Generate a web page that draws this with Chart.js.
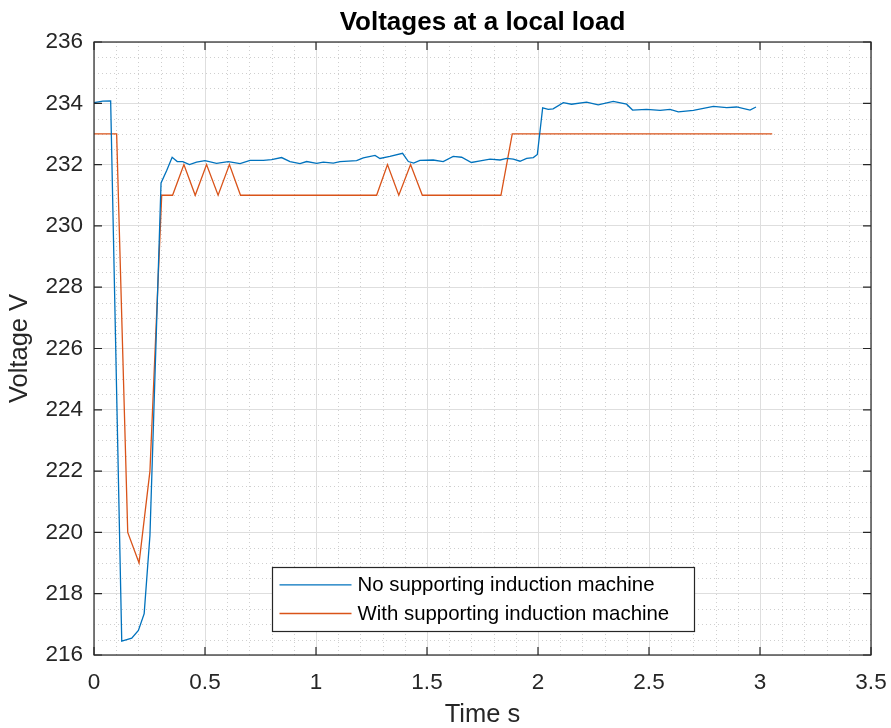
<!DOCTYPE html>
<html>
<head>
<meta charset="utf-8">
<script src="https://cdn.jsdelivr.net/npm/chart.js@4/dist/chart.umd.min.js"></script>
<style>
  html,body{margin:0;padding:0;background:#fff;}
  #wrap{width:891px;height:728px;}
</style>
</head>
<body>
<div id="wrap"><canvas id="c" width="891" height="728"></canvas></div>
<script>
// ---- data ----
const blueLabel = 'No supporting induction machine';
const orangeLabel = 'With supporting induction machine';

const blueTime = [0, 0.04, 0.075, 0.125, 0.17, 0.2, 0.226, 0.252, 0.302, 0.327, 0.352, 0.375, 0.4, 0.43, 0.462, 0.5, 0.552, 0.605, 0.658, 0.703, 0.763, 0.8, 0.845, 0.883, 0.928, 0.958, 1.003, 1.033, 1.078, 1.108, 1.183, 1.213, 1.266, 1.288, 1.333, 1.39, 1.416, 1.44, 1.468, 1.528, 1.573, 1.618, 1.656, 1.7, 1.74, 1.784, 1.829, 1.859, 1.889, 1.919, 1.949, 1.979, 1.997, 2.021, 2.046, 2.068, 2.114, 2.151, 2.219, 2.271, 2.339, 2.399, 2.426, 2.489, 2.55, 2.595, 2.632, 2.7, 2.79, 2.85, 2.895, 2.955, 2.982];
const blueVolt = [234.02, 234.07, 234.08, 216.45, 216.55, 216.8, 217.35, 219.9, 231.4, 231.8, 232.24, 232.1, 232.1, 232.0, 232.08, 232.13, 232.04, 232.1, 232.03, 232.14, 232.14, 232.16, 232.23, 232.1, 232.03, 232.1, 232.04, 232.08, 232.05, 232.1, 232.13, 232.22, 232.3, 232.2, 232.27, 232.37, 232.1, 232.05, 232.14, 232.15, 232.1, 232.27, 232.24, 232.07, 232.12, 232.18, 232.15, 232.2, 232.18, 232.11, 232.2, 232.23, 232.33, 233.85, 233.8, 233.82, 234.02, 233.97, 234.04, 233.95, 234.06, 233.97, 233.78, 233.8, 233.77, 233.8, 233.72, 233.77, 233.9, 233.86, 233.88, 233.78, 233.88];

const orangeTime = [0, 0.102, 0.152, 0.203, 0.252, 0.305, 0.354, 0.405, 0.456, 0.507, 0.559, 0.61, 0.66, 1.273, 1.322, 1.373, 1.426, 1.479, 1.833, 1.884, 3.055];
const orangeVolt = [233, 233, 220, 219, 222, 231, 231, 232, 231, 232, 231, 232, 231, 231, 232, 231, 232, 231, 231, 233, 233];

const xTickValues = [0, 0.5, 1, 1.5, 2, 2.5, 3, 3.5];
const xTickLabels = ['0', '0.5', '1', '1.5', '2', '2.5', '3', '3.5'];
const yTickValues = [216, 218, 220, 222, 224, 226, 228, 230, 232, 234, 236];
const yTickLabels = ['216', '218', '220', '222', '224', '226', '228', '230', '232', '234', '236'];
const xMinorStep = 0.1;
const yMinorStep = 0.5;

const chartTitle = 'Voltages at a local load';
const xTitle = 'Time s';
const yTitle = 'Voltage V';

// ---- styling ----
const FONT = "'Liberation Sans', Arial, Helvetica, sans-serif";
const AXIS_COLOR = '#262626';
const BLUE = '#0072BD';
const ORANGE = '#D95319';

const minorGrid = {
  id: 'minorGrid',
  beforeDatasetsDraw(chart) {
    const {ctx, chartArea: a, scales: {x, y}} = chart;
    ctx.save();
    ctx.strokeStyle = '#cfcfcf';
    ctx.lineWidth = 1;
    ctx.setLineDash([1, 3]);
    const xMin = xTickValues[0], xMax = xTickValues[xTickValues.length - 1];
    const nx = Math.round((xMax - xMin) / xMinorStep);
    for (let i = 1; i < nx; i++) {
      const v = xMin + i * xMinorStep;
      if (xTickValues.some(t => Math.abs(t - v) < 1e-6)) continue;
      const px = Math.round(x.getPixelForValue(v)) + 0.5;
      ctx.beginPath(); ctx.moveTo(px, a.top); ctx.lineTo(px, a.bottom); ctx.stroke();
    }
    const yMin = yTickValues[0], yMax = yTickValues[yTickValues.length - 1];
    const ny = Math.round((yMax - yMin) / yMinorStep);
    for (let i = 1; i < ny; i++) {
      const v = yMin + i * yMinorStep;
      if (yTickValues.some(t => Math.abs(t - v) < 1e-6)) continue;
      const py = Math.round(y.getPixelForValue(v)) + 0.5;
      ctx.beginPath(); ctx.moveTo(a.left, py); ctx.lineTo(a.right, py); ctx.stroke();
    }
    ctx.restore();
  }
};

const axesBox = {
  id: 'axesBox',
  afterDatasetsDraw(chart) {
    const {ctx, chartArea: a, scales: {x, y}} = chart;
    ctx.save();
    ctx.strokeStyle = AXIS_COLOR;
    ctx.lineWidth = 1.2;
    ctx.setLineDash([]);
    ctx.strokeRect(a.left, a.top, a.right - a.left, a.bottom - a.top);
    const TL = 8;
    ctx.beginPath();
    xTickValues.forEach(v => {
      const px = x.getPixelForValue(v);
      ctx.moveTo(px, a.bottom); ctx.lineTo(px, a.bottom - TL);
      ctx.moveTo(px, a.top); ctx.lineTo(px, a.top + TL);
    });
    yTickValues.forEach(v => {
      const py = y.getPixelForValue(v);
      ctx.moveTo(a.left, py); ctx.lineTo(a.left + TL, py);
      ctx.moveTo(a.right, py); ctx.lineTo(a.right - TL, py);
    });
    ctx.stroke();
    ctx.restore();
  }
};

const axesTitle = {
  id: 'axesTitle',
  afterDraw(chart) {
    const {ctx, chartArea: a} = chart;
    ctx.save();
    ctx.font = 'bold 26px ' + FONT;
    ctx.fillStyle = '#000000';
    ctx.textAlign = 'center';
    ctx.textBaseline = 'alphabetic';
    ctx.fillText(chartTitle, (a.left + a.right) / 2, a.top - 12);
    ctx.restore();
  }
};

const boxLegend = {
  id: 'boxLegend',
  afterDraw(chart) {
    const {ctx, chartArea: a} = chart;
    const ds = chart.data.datasets;
    ctx.save();
    ctx.font = '20.4px ' + FONT;
    const textW = Math.max(...ds.map(d => ctx.measureText(d.label).width));
    const padL = 7, lineLen = 72, gap = 6, padR = 25, rowH = 28.7, padT = 17.3;
    const w = Math.round(padL + lineLen + gap + textW + padR);
    const h = 64;
    const cx = (a.left + a.right) / 2;
    const left = Math.round(cx - w / 2) + 0.5;
    const top = Math.round(a.bottom - 24 - h) + 0.5;
    ctx.fillStyle = '#ffffff';
    ctx.fillRect(left, top, w, h);
    ctx.strokeStyle = AXIS_COLOR;
    ctx.lineWidth = 1.2;
    ctx.strokeRect(left, top, w, h);
    ds.forEach((d, i) => {
      const ry = top + padT + i * rowH;
      ctx.strokeStyle = d.borderColor;
      ctx.lineWidth = d.borderWidth;
      ctx.beginPath();
      ctx.moveTo(left + padL, ry); ctx.lineTo(left + padL + lineLen, ry);
      ctx.stroke();
      ctx.fillStyle = '#000000';
      ctx.textBaseline = 'middle';
      ctx.textAlign = 'left';
      ctx.fillText(d.label, left + padL + lineLen + gap, ry + 1);
    });
    ctx.restore();
  }
};

const toPoints = (ts, vs) => ts.map((t, i) => ({x: t, y: vs[i]}));

new Chart(document.getElementById('c'), {
  type: 'line',
  data: {
    datasets: [
      {label: blueLabel, data: toPoints(blueTime, blueVolt), borderColor: BLUE, borderWidth: 1.3, pointRadius: 0, tension: 0, fill: false},
      {label: orangeLabel, data: toPoints(orangeTime, orangeVolt), borderColor: ORANGE, borderWidth: 1.3, pointRadius: 0, tension: 0, fill: false}
    ]
  },
  options: {
    responsive: false,
    animation: false,
    devicePixelRatio: 1,
    layout: {padding: {left: 0, right: 20, top: 42, bottom: 0}},
    plugins: {
      legend: {display: false},
      tooltip: {enabled: false},
      title: {display: false}
    },
    scales: {
      x: {
        type: 'linear', min: xTickValues[0], max: xTickValues[xTickValues.length - 1],
        afterBuildTicks: s => { s.ticks = xTickValues.map(v => ({value: v})); },
        afterFit: s => { s.height = 73; s.paddingLeft = 0; s.paddingRight = 0; },
        ticks: {color: AXIS_COLOR, font: {family: FONT, size: 22.5}, padding: 14, maxRotation: 0, autoSkip: false,
          callback: (v, i) => xTickLabels[i]},
        grid: {color: '#dedede', lineWidth: 1, drawTicks: false},
        border: {display: false},
        title: {display: true, text: xTitle, color: AXIS_COLOR, font: {family: FONT, size: 25.5, lineHeight: 1}, padding: {top: 0, bottom: 0}}
      },
      y: {
        type: 'linear', min: yTickValues[0], max: yTickValues[yTickValues.length - 1],
        afterBuildTicks: s => { s.ticks = yTickValues.map(v => ({value: v})); },
        afterFit: s => { s.width = 94; s.paddingTop = 0; s.paddingBottom = 0; },
        ticks: {color: AXIS_COLOR, font: {family: FONT, size: 22.5}, padding: 11,
          callback: (v, i) => yTickLabels[i]},
        grid: {color: '#dedede', lineWidth: 1, drawTicks: false},
        border: {display: false},
        title: {display: true, text: yTitle, color: AXIS_COLOR, font: {family: FONT, size: 25.5, lineHeight: 1.2}, padding: {top: 5, bottom: 0}}
      }
    }
  },
  plugins: [minorGrid, axesBox, axesTitle, boxLegend]
});
</script>
</body>
</html>
